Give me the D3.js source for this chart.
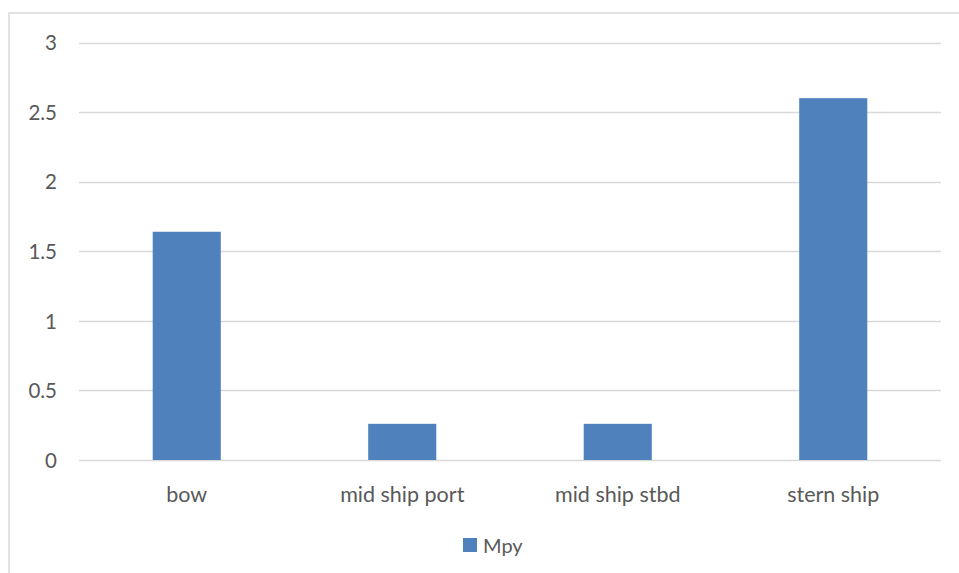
<!DOCTYPE html>
<html><head><meta charset="utf-8">
<script src="https://cdn.jsdelivr.net/npm/d3@7"></script>
<style>body{margin:0;background:#fff}svg{display:block}</style>
</head><body>
<script>
const categories = ["bow", "mid ship port", "mid ship stbd", "stern ship"];
const mpyValues = [1.64, 0.26, 0.26, 2.6];
const seriesName = "Mpy";
const yTicks = [0, 0.5, 1, 1.5, 2, 2.5, 3];

const W = 959, H = 573;
const svg = d3.select("body").append("svg").attr("width", W).attr("height", H);
const font = "Lato, 'Open Sans', sans-serif";

// chart border
svg.append("rect").attr("x", 9).attr("y", 13).attr("width", 960).attr("height", 600)
  .attr("fill", "#fff").attr("stroke", "#d9d9d9").attr("stroke-width", 1.5);

const x = d3.scaleBand().domain(categories).range([79, 941]).paddingInner(0).paddingOuter(0);
const y = d3.scaleLinear().domain([0, 3]).range([460, 42.5]);

const grid = svg.append("g");
grid.selectAll("line").data(yTicks).join("line")
  .attr("x1", 79).attr("x2", 941)
  .attr("y1", d => Math.round(y(d)) + 0.5).attr("y2", d => Math.round(y(d)) + 0.5)
  .attr("stroke", "#d9d9d9").attr("stroke-width", 1.5);

const yAxis = d3.axisLeft(y).tickValues(yTicks).tickSize(0).tickPadding(0).tickFormat(d => String(d));
const ga = svg.append("g").attr("transform", "translate(57,0)").call(yAxis);
ga.select(".domain").remove();
ga.selectAll("text").attr("font-family", font).attr("font-size", 20.5).attr("fill", "#595959").attr("dy", "0.35em");

const bw = x.step() * 0.316;
svg.append("g").selectAll("rect").data(mpyValues).join("rect")
  .attr("x", (d, i) => x(categories[i]) + x.bandwidth() / 2 - bw / 2)
  .attr("width", bw)
  .attr("y", d => y(d))
  .attr("height", d => y(0) - y(d))
  .attr("fill", "#4f81bd");

const xAxis = d3.axisBottom(x).tickSize(0).tickPadding(0);
const gx = svg.append("g").attr("transform", "translate(0,502)").call(xAxis);
gx.select(".domain").remove();
gx.selectAll("text").attr("font-family", font).attr("font-size", 21.5).attr("fill", "#595959").attr("dy", "0").attr("y", 0);

const lg = svg.append("g");
lg.append("rect").attr("x", 463).attr("y", 538).attr("width", 14).attr("height", 14).attr("fill", "#4f81bd");
lg.append("text").attr("x", 483).attr("y", 553).attr("font-family", font).attr("font-size", 20)
  .attr("fill", "#595959").text(seriesName);
</script>
</body></html>
